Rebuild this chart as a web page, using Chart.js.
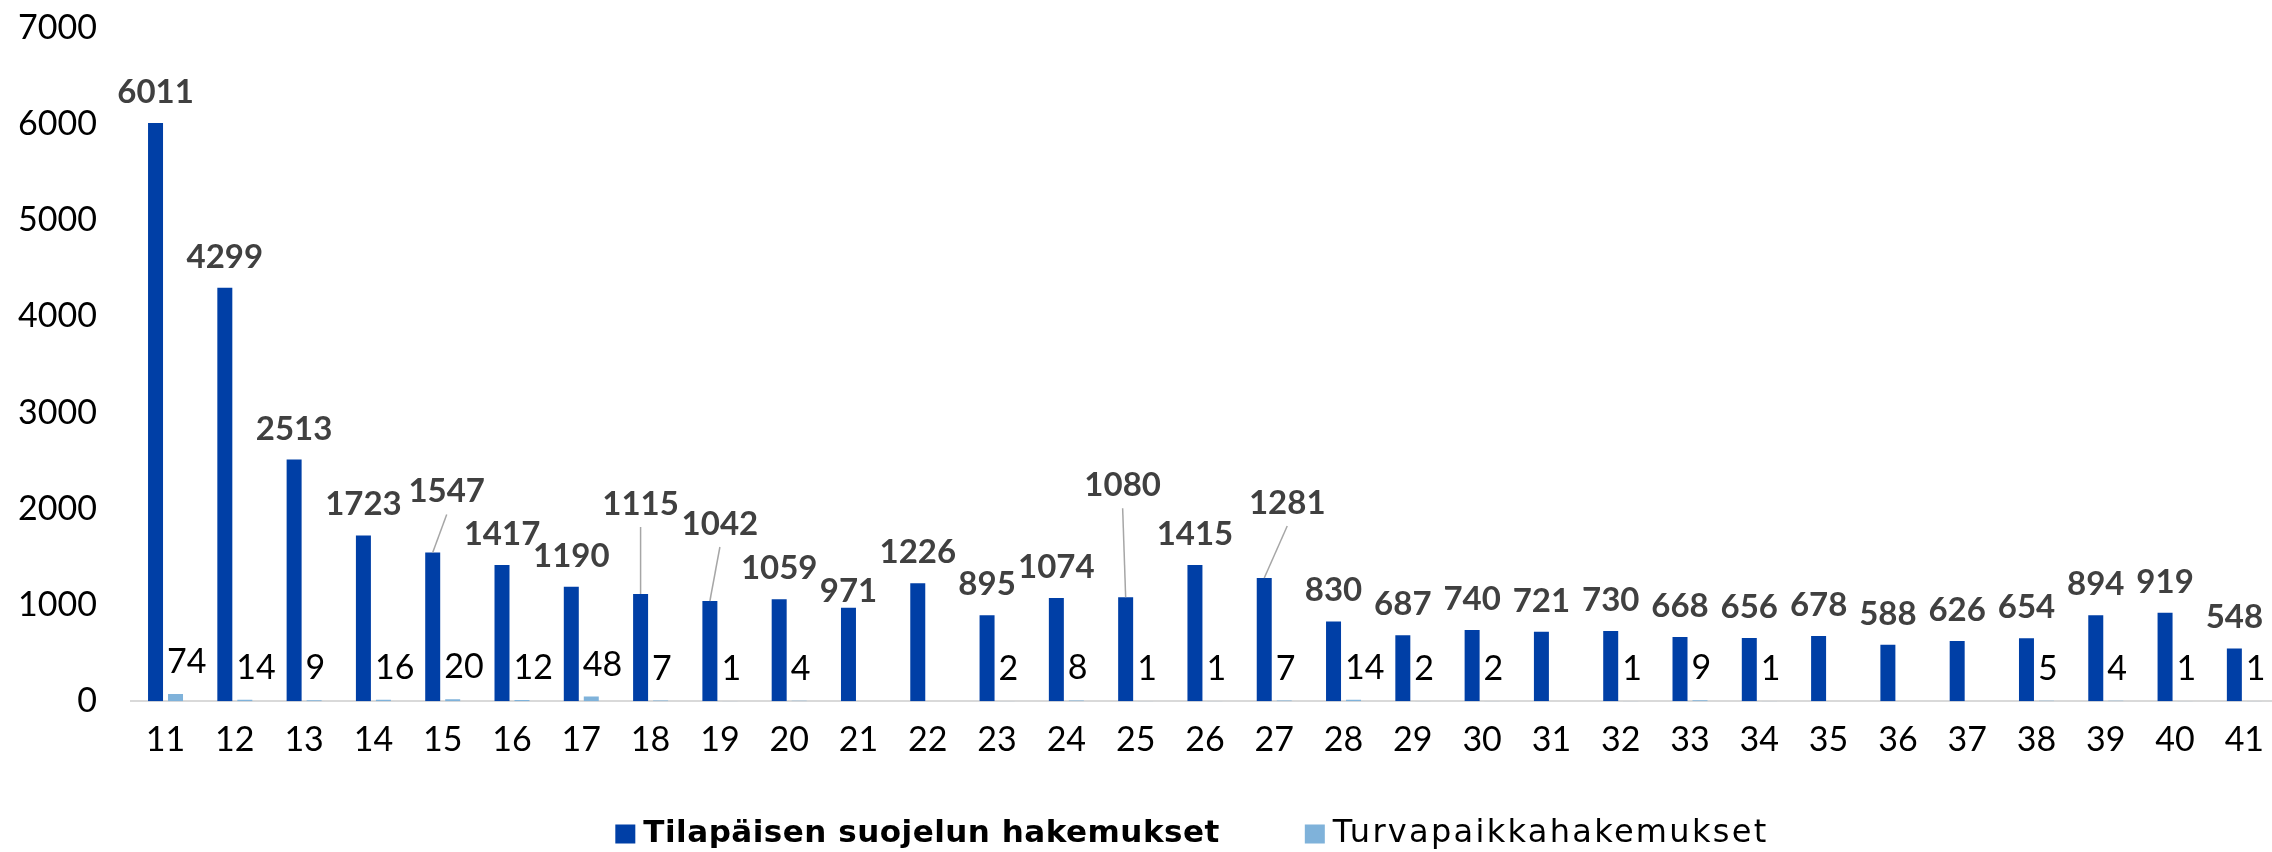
<!DOCTYPE html>
<html>
<head>
<meta charset="utf-8">
<title>Hakemukset viikoittain</title>
<script src="https://cdn.jsdelivr.net/npm/chart.js@4.4.1/dist/chart.umd.min.js"></script>
<style>
  html, body { margin: 0; padding: 0; background: #fff; overflow: hidden; }
  #wrap { width: 2272px; height: 852px; overflow: hidden; }
</style>
</head>
<body>
<div id="wrap"><canvas id="chart" width="2290" height="852"></canvas></div>
<script>
// week numbers
const weeks = ['11','12','13','14','15','16','17','18','19','20','21','22','23','24','25','26',
               '27','28','29','30','31','32','33','34','35','36','37','38','39','40','41'];

// Tilapäisen suojelun hakemukset
const temporaryProtection = [6011, 4299, 2513, 1723, 1547, 1417, 1190, 1115, 1042, 1059, 971,
                             1226, 895, 1074, 1080, 1415, 1281, 830, 687, 740, 721, 730, 668,
                             656, 678, 588, 626, 654, 894, 919, 548];

// Turvapaikkahakemukset (null = no value for that week)
const asylum = [74, 14, 9, 16, 20, 12, 48, 7, 1, 4, null, null, 2, 8, 1, 1, 7, 14, 2, 2,
                null, 1, 9, 1, null, null, null, 5, 4, 1, 1];

const yTicks = [0, 1000, 2000, 3000, 4000, 5000, 6000, 7000];

const legendNames = ['Tilapäisen suojelun hakemukset', 'Turvapaikkahakemukset'];

const DARK = '#003FA6';
const LIGHT = '#7FB2DA';

// labels that were dragged away from their bar (index -> [dx, dy, leader line])
const movedLabels = {
  4:  [14, -30, true],
  7:  [0, -59, true],
  8:  [10, -46, true],
  10: [0, 14, false],
  14: [-3, -81, true],
  16: [23, -44, true]
};

const valueLabels = {
  id: 'valueLabels',
  afterDatasetsDraw(chart) {
    const ctx = chart.ctx;
    ctx.save();
    ctx.textBaseline = 'alphabetic';

    // dark series: bold, centred above the bar
    const darkMeta = chart.getDatasetMeta(0);
    ctx.font = 'bold 33px Lato';
    ctx.textAlign = 'center';
    darkMeta.data.forEach((bar, i) => {
      const v = temporaryProtection[i];
      if (v == null) return;
      const off = movedLabels[i] || [0, 0, false];
      const x = bar.x + off[0];
      const y = bar.y - 20 + off[1];
      if (off[2]) {
        ctx.strokeStyle = '#A6A6A6';
        ctx.lineWidth = 1.5;
        ctx.beginPath();
        ctx.moveTo(x, y + 12);
        ctx.lineTo(bar.x, bar.y);
        ctx.stroke();
      }
      ctx.fillStyle = '#404040';
      ctx.fillText(String(v), x, y);
    });

    // light series: regular, starting at the bar's left edge
    const lightMeta = chart.getDatasetMeta(1);
    ctx.font = '34px Lato';
    ctx.textAlign = 'left';
    ctx.fillStyle = '#000';
    lightMeta.data.forEach((bar, i) => {
      const v = asylum[i];
      if (v == null) return;
      ctx.fillText(String(v), bar.x - bar.width / 2 - 1, bar.y - 21);
    });
    ctx.restore();
  }
};

const bottomLegend = {
  id: 'bottomLegend',
  afterDraw(chart) {
    const ctx = chart.ctx;
    const area = chart.chartArea;
    const items = [
      { text: legendNames[0], color: DARK, font: 'bold 31px "DejaVu Sans"', spacing: '0.5px' },
      { text: legendNames[1], color: LIGHT, font: '32px "DejaVu Sans"', spacing: '2.3px' }
    ];
    const boxW = 20, boxH = 19, textGap = 8, itemGap = 85;
    ctx.save();
    let total = 0;
    items.forEach((it, k) => {
      ctx.font = it.font;
      ctx.letterSpacing = it.spacing;
      it.w = ctx.measureText(it.text).width;
      total += boxW + textGap + it.w + (k ? 0 : itemGap);
    });
    const cy = 834;
    let x = (area.left + area.right) / 2 - 13 - total / 2;
    items.forEach(it => {
      ctx.fillStyle = it.color;
      ctx.fillRect(x, cy - boxH / 2, boxW, boxH);
      x += boxW + textGap;
      ctx.font = it.font;
      ctx.letterSpacing = it.spacing;
      ctx.fillStyle = '#000';
      ctx.textAlign = 'left';
      ctx.textBaseline = 'middle';
      ctx.fillText(it.text, x, cy);
      x += it.w + itemGap;
    });
    ctx.restore();
  }
};

new Chart(document.getElementById('chart'), {
  type: 'bar',
  data: {
    labels: weeks,
    datasets: [
      {
        label: legendNames[0],
        data: temporaryProtection,
        backgroundColor: DARK,
        categoryPercentage: 0.577,
        barPercentage: 0.75
      },
      {
        label: legendNames[1],
        data: asylum,
        backgroundColor: LIGHT,
        categoryPercentage: 0.577,
        barPercentage: 0.75
      }
    ]
  },
  options: {
    responsive: false,
    devicePixelRatio: 1,
    animation: false,
    layout: { padding: { top: 28, left: 18, right: 11, bottom: 74 } },
    plugins: {
      legend: { display: false },
      tooltip: { enabled: false }
    },
    scales: {
      x: {
        grid: { display: false, drawTicks: false },
        border: { display: true, color: '#D9D9D9', width: 2 },
        ticks: { color: '#000', font: { family: 'Lato', size: 34 }, padding: 18, maxRotation: 0, autoSkip: false }
      },
      y: {
        min: 0,
        max: 7000,
        afterBuildTicks: axis => { axis.ticks = yTicks.map(v => ({ value: v })); },
        afterFit: axis => {
          // padding is counted on both sides of the labels; keep only the gap to the plot
          axis.width -= axis.options.ticks.padding;
          axis.paddingTop = 0;
        },
        grid: { display: false, drawTicks: false },
        border: { display: false },
        ticks: {
          color: '#000',
          font: { family: 'Lato', size: 34 },
          padding: 34,
          callback: v => String(v)
        }
      }
    }
  },
  plugins: [valueLabels, bottomLegend]
});
</script>
</body>
</html>
